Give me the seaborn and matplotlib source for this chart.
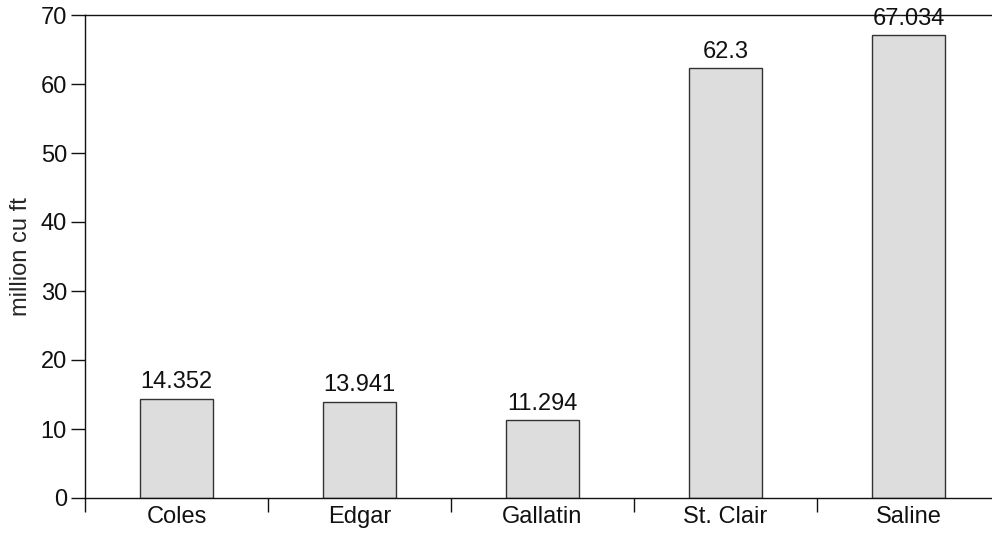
import matplotlib
matplotlib.use("Agg")
import matplotlib.pyplot as plt
import seaborn as sns
import pandas as pd
from matplotlib.ticker import FixedLocator

counties = ["Coles", "Edgar", "Gallatin", "St. Clair", "Saline"]
volumes = [14.352, 13.941, 11.294, 62.3, 67.034]
value_labels = ["14.352", "13.941", "11.294", "62.3", "67.034"]
y_ticks = [0, 10, 20, 30, 40, 50, 60, 70]

sns.set_style("white")
plt.rcParams["font.family"] = ["Liberation Sans", "DejaVu Sans"]

FS = 17

df = pd.DataFrame({"county": counties, "volume": volumes})

fig = plt.figure(figsize=(9.92, 5.4), dpi=100)
ax = fig.add_axes([85 / 992, 42 / 540, 915 / 992, 483 / 540])

sns.barplot(data=df, x="county", y="volume", order=counties, width=0.4,
            color="#dddddd", edgecolor="#333333", linewidth=1.0,
            saturation=1, ax=ax)

for i, (v, lab) in enumerate(zip(volumes, value_labels)):
    ax.annotate(lab, (i, v), xytext=(0, 4), textcoords="offset points",
                ha="center", va="bottom", fontsize=FS, color="#111111")

ax.set_xlim(-0.5, 4.5)
ax.set_ylim(0, 70)
ax.set_yticks(y_ticks)
ax.set_ylabel("million cu ft", fontsize=FS, labelpad=6)
ax.set_xlabel("")

# category separators as minor ticks on the x axis
ax.xaxis.set_minor_locator(FixedLocator([-0.5, 0.5, 1.5, 2.5, 3.5, 4.5]))
ax.tick_params(axis="x", which="major", length=0, labelsize=FS, pad=6, colors="#111111")
ax.tick_params(axis="x", which="minor", length=10, width=1, color="#111111", direction="out", bottom=True)
ax.tick_params(axis="y", which="major", length=10, width=1, color="#111111", direction="out",
               left=True, labelsize=FS, pad=3, labelcolor="#111111")

for side in ["left", "bottom", "top"]:
    ax.spines[side].set_visible(True)
    ax.spines[side].set_color("#111111")
    ax.spines[side].set_linewidth(1.0)
ax.spines["right"].set_visible(False)

fig.savefig("out.png", dpi=100)
